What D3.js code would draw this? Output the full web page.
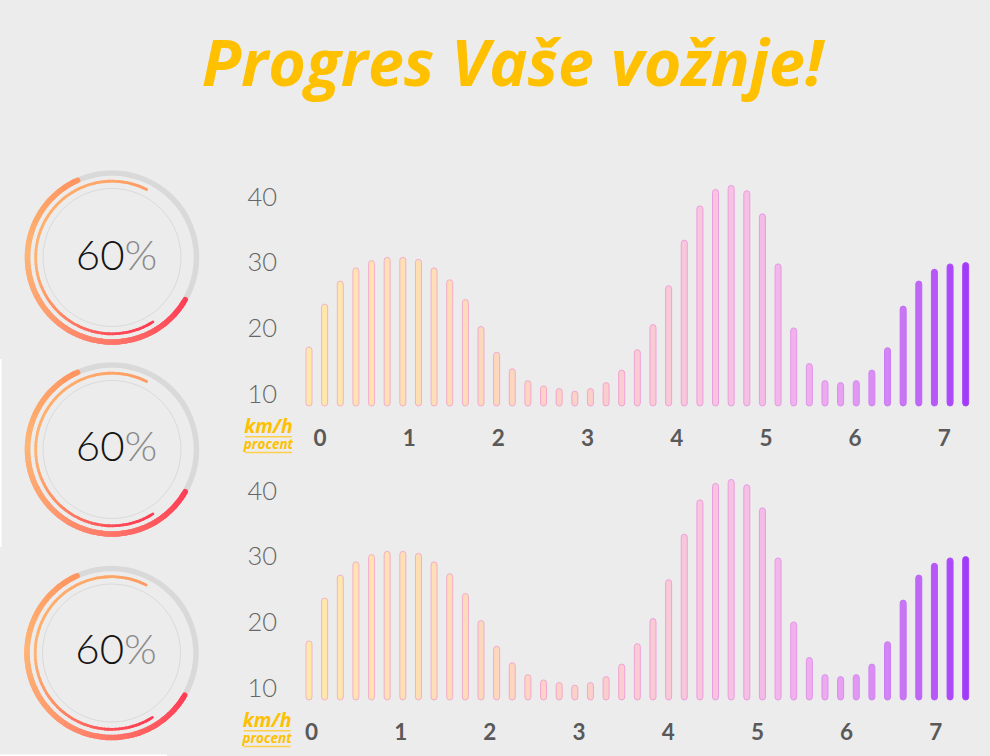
<!DOCTYPE html>
<html lang="sr">
<head>
    <meta charset="UTF-8">
    <title>Progres Vaše vožnje!</title>
    <script src="https://cdn.jsdelivr.net/npm/d3@7/dist/d3.min.js"></script>
    <style>
        body {
            margin: 0;
            padding: 0;
            background-color: #ececec;
            overflow: hidden;
        }

        svg {
            display: block;
        }

        .title {
            font-family: 'Open Sans', sans-serif;
            font-weight: 700;
            font-style: italic;
            fill: #ffc000;
        }

        .unit {
            font-family: 'Open Sans', sans-serif;
            font-weight: 700;
            font-style: italic;
            fill: #ffc000;
        }

        .y-tick {
            font-family: 'Lato', sans-serif;
            font-weight: 300;
            fill: #666666;
        }

        .x-tick {
            font-family: 'Lato', sans-serif;
            font-weight: 700;
            fill: #595959;
        }

        .gauge-text {
            font-family: 'Lato', sans-serif;
            font-weight: 300;
        }
    </style>
</head>
<body>
    <div id="chart"></div>

    <script>
        // speed per sample (km/h)
        const speeds = [17.1, 23.6, 27.1, 29.1, 30.2, 30.7, 30.7, 30.4, 29.1, 27.3,
                        24.3, 20.2, 16.3, 13.8, 12.0, 11.2, 10.8, 10.4, 10.8, 11.7,
                        13.6, 16.7, 20.5, 26.4, 33.3, 38.5, 41.0, 41.6, 40.8, 37.3,
                        29.7, 20.0, 14.6, 12.0, 11.7, 12.0, 13.6, 17.0, 23.3, 27.1,
                        28.9, 29.7, 29.9];
        const yTicks = [10, 20, 30, 40];
        const xTicks = [0, 1, 2, 3, 4, 5, 6, 7];
        const unitLabels = ['km/h', 'procent'];

        // the three progress rings
        const gaugeValues = [60, 60, 60];
        const gaugeInner = [66.5, 66.5, 66.5];

        const width = 990;
        const height = 756;

        const svg = d3.select('#chart')
            .append('svg')
            .attr('width', width)
            .attr('height', height);

        // title
        svg.append('text')
            .attr('class', 'title')
            .attr('x', 512.5)
            .attr('y', 86)
            .attr('text-anchor', 'middle')
            .attr('font-size', 64.5)
            .text('Progres Vaše vožnje!');

        // bar colours run yellow -> pink -> purple
        const fillColor = d3.scaleLinear()
            .domain([0, 14, 27, 33, 37, 42])
            .range(['#ffe9a8', '#fdd5c0', '#f8c3e2', '#eeaaef', '#d385f4', '#a23af9'])
            .interpolate(d3.interpolateRgb);

        const strokeColor = d3.scaleLinear()
            .domain([0, 18, 30, 36, 42])
            .range(['#f5b0cc', '#f1a5d2', '#e59be6', '#cf86f2', '#a846f8'])
            .interpolate(d3.interpolateRgb);

        const x = d3.scalePoint()
            .domain(d3.range(speeds.length))
            .range([309, 965.7]);

        function drawBars(offsetY, labelShift) {
            const g = svg.append('g').attr('transform', `translate(0,${offsetY})`);

            const y = d3.scaleLinear()
                .domain([8, 40])
                .range([407, 196]);

            const xLab = d3.scaleLinear()
                .domain([0, 7])
                .range([320 + labelShift, 944.3 + labelShift]);

            g.selectAll('.y-tick')
                .data(yTicks)
                .join('text')
                .attr('class', 'y-tick')
                .attr('x', 277)
                .attr('y', d => y(d) + 9.5)
                .attr('text-anchor', 'end')
                .attr('font-size', 25.5)
                .text(d => d);

            g.selectAll('.bar')
                .data(speeds)
                .join('rect')
                .attr('class', 'bar')
                .attr('x', (d, i) => x(i) - 3)
                .attr('y', d => y(d))
                .attr('width', 6)
                .attr('height', d => y(8) - y(d) - 1)
                .attr('rx', 3)
                .attr('fill', (d, i) => fillColor(i))
                .attr('stroke', (d, i) => strokeColor(i))
                .attr('stroke-width', 1);

            g.selectAll('.x-tick')
                .data(xTicks)
                .join('text')
                .attr('class', 'x-tick')
                .attr('x', d => xLab(d))
                .attr('y', 446)
                .attr('text-anchor', 'middle')
                .attr('font-size', 22.5)
                .text(d => d);

            // unit legend, underlined
            const ux = 268.5 + labelShift / 6;
            g.append('text')
                .attr('class', 'unit')
                .attr('x', ux)
                .attr('y', 432.5)
                .attr('text-anchor', 'middle')
                .attr('font-size', 19.5)
                .text(unitLabels[0]);
            g.append('line')
                .attr('x1', ux - 23.5).attr('x2', ux + 23.5)
                .attr('y1', 436.8).attr('y2', 436.8)
                .attr('stroke', '#ffcf4a').attr('stroke-width', 1.4);
            g.append('text')
                .attr('class', 'unit')
                .attr('x', ux)
                .attr('y', 449)
                .attr('text-anchor', 'middle')
                .attr('font-size', 13.5)
                .text(unitLabels[1]);
            g.append('line')
                .attr('x1', ux - 23.5).attr('x2', ux + 23.5)
                .attr('y1', 452.5).attr('y2', 452.5)
                .attr('stroke', '#ffcf4a').attr('stroke-width', 1.4);
        }

        drawBars(0, 0);
        drawBars(294, -8.5);

        // rings: arcs drawn as short segments so colour can follow the arc
        const deg = Math.PI / 180;

        const outerColor = d3.scaleLinear()
            .domain([0, 0.28, 0.5, 0.72, 1])
            .range(['#ff3b55', '#ff7468', '#ff9c6e', '#ffb574', '#ff945f']);

        const innerColor = d3.scaleLinear()
            .domain([0, 0.12, 0.5, 0.68, 0.86, 1])
            .range(['#ff9a62', '#ffa667', '#ffb372', '#ff8c64', '#ff5058', '#ff3a52']);

        function gradientArc(g, r, a0, a1, w, colorScale) {
            const n = 90;
            for (let i = 0; i < n; i++) {
                const s = a0 + (a1 - a0) * i / n;
                const e = a0 + (a1 - a0) * (i + 1) / n;
                const p = d3.path();
                p.arc(0, 0, r, (s - 90) * deg, (e - 90) * deg, e < s);
                g.append('path')
                    .attr('d', p.toString())
                    .attr('fill', 'none')
                    .attr('stroke', colorScale((i + 0.5) / n))
                    .attr('stroke-width', w)
                    .attr('stroke-linecap', 'round');
            }
        }

        const centers = [[112, 257.5], [112, 449.5], [111.5, 653]];

        centers.forEach((c, k) => {
            const g = svg.append('g').attr('transform', `translate(${c[0]},${c[1]})`);

            g.append('circle')
                .attr('r', 84.5)
                .attr('fill', 'none')
                .attr('stroke', '#d9d9d9')
                .attr('stroke-width', 5.5);

            g.append('circle')
                .attr('r', 69)
                .attr('fill', 'none')
                .attr('stroke', '#dadada')
                .attr('stroke-width', 1);

            // outer arc runs clockwise from lower right
            const outerStart = 120;
            gradientArc(g, 84.5, outerStart, outerStart + 360 * gaugeValues[k] / 100, 5.5, outerColor);

            // inner arc runs anticlockwise from upper right
            const innerStart = 27;
            gradientArc(g, 76.3, innerStart, innerStart - 360 * gaugeInner[k] / 100, 2.8, innerColor);

            const t = g.append('text')
                .attr('class', 'gauge-text')
                .attr('x', 4.5)
                .attr('y', 12.5 - (k > 0 ? 1.3 : 0))
                .attr('text-anchor', 'middle')
                .attr('font-size', 42);
            t.append('tspan').attr('fill', '#151515').text(gaugeValues[k]);
            t.append('tspan').attr('fill', '#8a8a8a').text('%');
        });

        // white seams left over from the screenshot collage
        svg.append('rect').attr('x', 0).attr('y', 359).attr('width', 1.5).attr('height', 188).attr('fill', '#ffffff');
        svg.append('rect').attr('x', 0).attr('y', 754.5).attr('width', 167).attr('height', 2).attr('fill', '#ffffff');
    </script>
</body>
</html>
